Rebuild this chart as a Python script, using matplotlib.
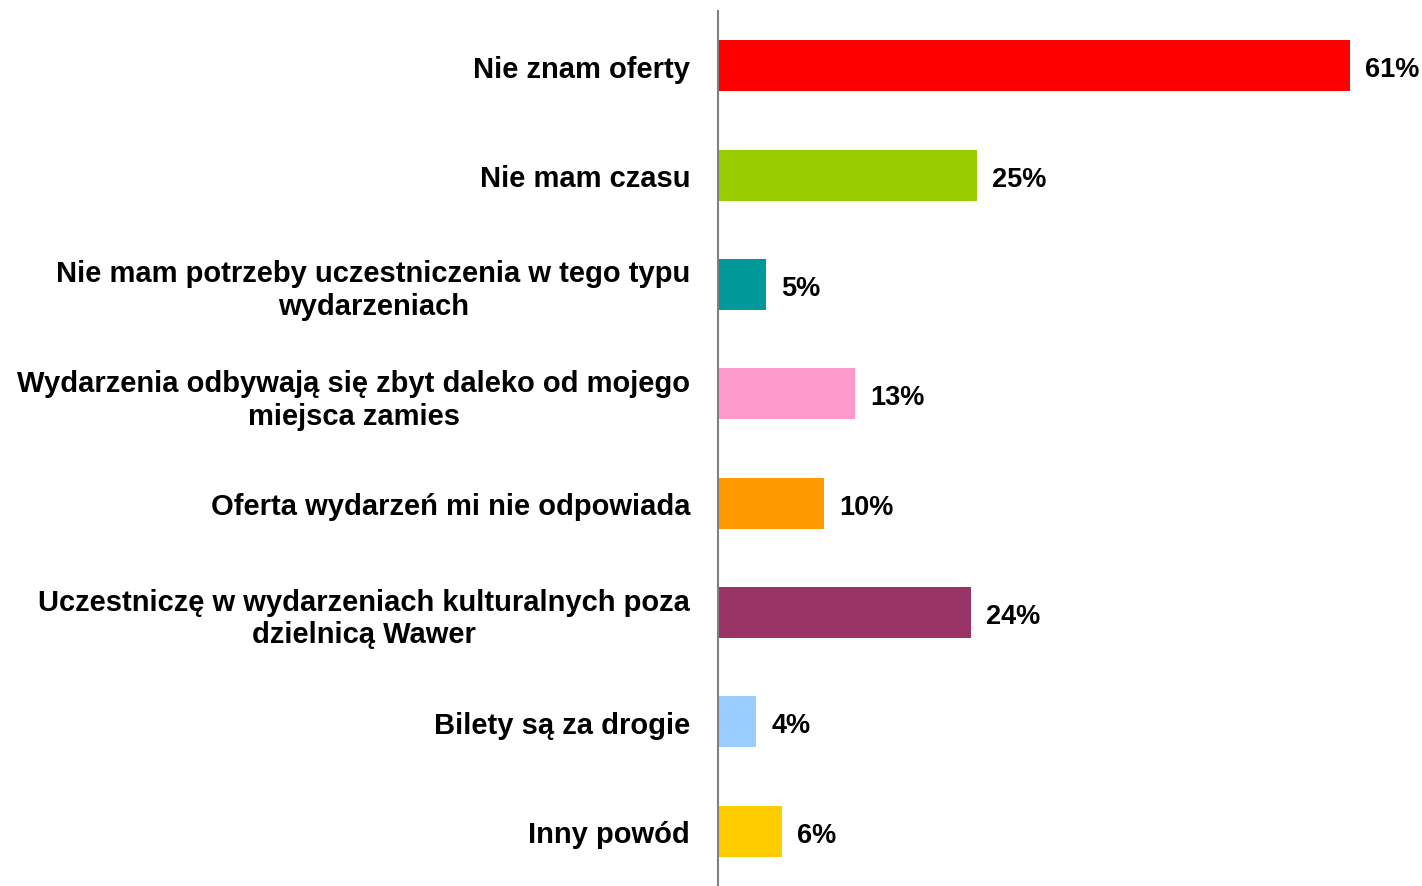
import matplotlib
matplotlib.use("Agg")
import matplotlib.pyplot as plt

plt.rcParams['font.family'] = ['Liberation Sans', 'DejaVu Sans']

categories = [
    "Nie znam oferty",
    "Nie mam czasu",
    "Nie mam potrzeby uczestniczenia w tego typu\nwydarzeniach",
    "Wydarzenia odbywają się zbyt daleko od mojego\nmiejsca zamies",
    "Oferta wydarzeń mi nie odpowiada",
    "Uczestniczę w wydarzeniach kulturalnych poza\ndzielnicą Wawer",
    "Bilety są za drogie",
    "Inny powód",
]
values = [61, 25, 4.6, 13.2, 10.2, 24.4, 3.7, 6.2]
colors = ["#FF0000", "#99CC00", "#009999", "#FF99CC",
          "#FF9900", "#993366", "#99CCFF", "#FFCC00"]

fig = plt.figure(figsize=(14.22, 8.87), dpi=100)
ax = fig.add_axes([718 / 1422, 0.0, 1 - 718 / 1422, 1 - 12 / 887])

pos = list(range(len(categories)))
ax.barh(pos, values, height=0.466, color=colors)
ax.set_ylim(len(categories) - 0.5, -0.5)
ax.set_xlim(0, 68)

for y, v in zip(pos, values):
    ax.annotate(f"{v:.0f}%", (v, y), xytext=(11, -2.5), textcoords="offset points",
                ha="left", va="center", fontsize=19.5, fontweight="bold")

ax.set_yticks(pos)
ax.set_yticklabels(categories, fontsize=21, fontweight="bold",
                   multialignment="center", linespacing=1.22)
ax.tick_params(axis="y", length=0, pad=20)
ax.set_xticks([])
for s in ["top", "right", "bottom"]:
    ax.spines[s].set_visible(False)
ax.spines["left"].set_color("#808080")
ax.spines["left"].set_linewidth(1.5)

fig.savefig("out.png", dpi=100)
